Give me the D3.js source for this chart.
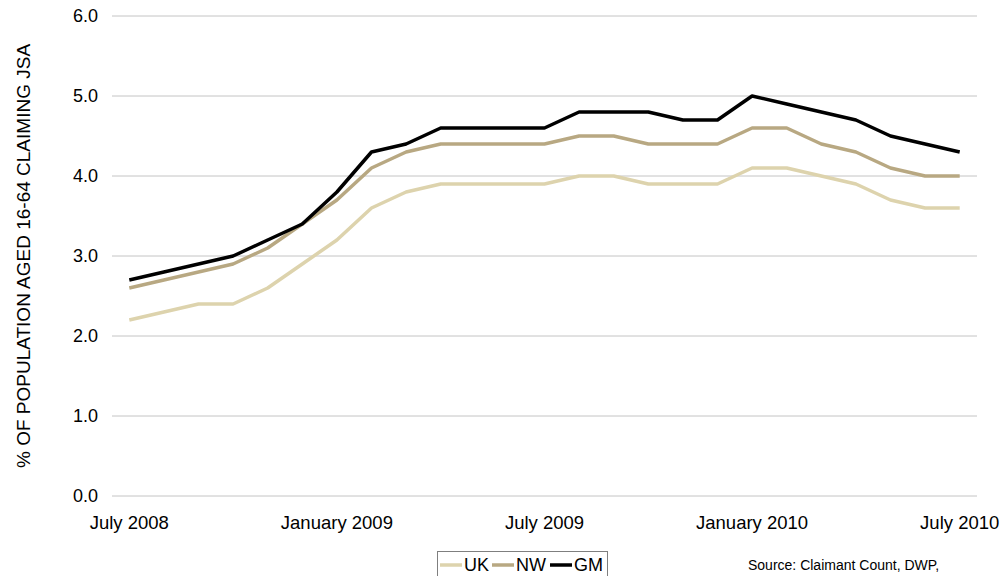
<!DOCTYPE html>
<html>
<head>
<meta charset="utf-8">
<script src="https://cdn.jsdelivr.net/npm/d3@7"></script>
<style>
  body { margin: 0; background: #fff; }
  svg { font-family: "Liberation Sans", Arial, sans-serif; }
</style>
</head>
<body>
<svg id="chart" width="1002" height="576"></svg>
<script>
// month index 0 = July 2008 ... 24 = July 2010
const months = d3.range(25);
const tickLabels = ["July 2008", "January 2009", "July 2009", "January 2010", "July 2010"];
const tickIdx = [0, 6, 12, 18, 24];

const uk = [2.2, 2.3, 2.4, 2.4, 2.6, 2.9, 3.2, 3.6, 3.8, 3.9, 3.9, 3.9, 3.9, 4.0, 4.0, 3.9, 3.9, 3.9, 4.1, 4.1, 4.0, 3.9, 3.7, 3.6, 3.6];
const nw = [2.6, 2.7, 2.8, 2.9, 3.1, 3.4, 3.7, 4.1, 4.3, 4.4, 4.4, 4.4, 4.4, 4.5, 4.5, 4.4, 4.4, 4.4, 4.6, 4.6, 4.4, 4.3, 4.1, 4.0, 4.0];
const gm = [2.7, 2.8, 2.9, 3.0, 3.2, 3.4, 3.8, 4.3, 4.4, 4.6, 4.6, 4.6, 4.6, 4.8, 4.8, 4.8, 4.7, 4.7, 5.0, 4.9, 4.8, 4.7, 4.5, 4.4, 4.3];

const series = [
  { name: "UK", values: uk, color: "#ddd3ad" },
  { name: "NW", values: nw, color: "#b8a882" },
  { name: "GM", values: gm, color: "#000000" }
];

const svg = d3.select("#chart");

// zone du graphique
const plotLeft = 112, plotRight = 977, plotTop = 16, plotBottom = 496;

const x = d3.scaleBand().domain(months).range([plotLeft, plotRight]);
const xc = i => x(i) + x.bandwidth() / 2;
const y = d3.scaleLinear().domain([0, 6]).range([plotBottom, plotTop]);

// grid lines
svg.append("g")
  .selectAll("line")
  .data(d3.range(0, 7))
  .enter().append("line")
  .attr("x1", plotLeft).attr("x2", plotRight)
  .attr("y1", d => y(d)).attr("y2", d => y(d))
  .attr("stroke", "#c4c4c4")
  .attr("stroke-width", 1);

// y tick labels
svg.append("g")
  .selectAll("text")
  .data(d3.range(0, 7))
  .enter().append("text")
  .attr("x", 98)
  .attr("y", d => y(d))
  .attr("dy", "0.35em")
  .attr("text-anchor", "end")
  .style("font-size", "18px")
  .text(d => d.toFixed(1));

// x tick labels
svg.append("g")
  .selectAll("text")
  .data(tickIdx)
  .enter().append("text")
  .attr("x", d => xc(d))
  .attr("y", 523)
  .attr("dy", "0.35em")
  .attr("text-anchor", "middle")
  .style("font-size", "18.5px")
  .text((d, i) => tickLabels[i]);

// y axis title
svg.append("text")
  .attr("transform", "translate(30,256) rotate(-90)")
  .attr("text-anchor", "middle")
  .style("font-size", "19px")
  .text("% OF POPULATION AGED 16-64 CLAIMING JSA");

// lines
const line = d3.line()
  .x((d, i) => xc(i))
  .y(d => y(d));

svg.append("g")
  .selectAll("path")
  .data(series)
  .enter().append("path")
  .attr("d", d => line(d.values))
  .attr("fill", "none")
  .attr("stroke", d => d.color)
  .attr("stroke-width", 3.5)
  .attr("stroke-linejoin", "round");

// legend
const legend = svg.append("g");
legend.append("rect")
  .attr("x", 437.5).attr("y", 551.5)
  .attr("width", 170).attr("height", 30)
  .attr("fill", "#fff")
  .attr("stroke", "#7f7f7f");

const itemX = [440, 492, 550];
const item = legend.selectAll(".item")
  .data(series)
  .enter().append("g")
  .attr("class", "item")
  .attr("transform", (d, i) => `translate(${itemX[i]},565)`);

item.append("line")
  .attr("x1", 0).attr("x2", 22)
  .attr("stroke", d => d.color)
  .attr("stroke-width", 3.5);

item.append("text")
  .attr("x", 24)
  .attr("dy", "0.35em")
  .style("font-size", "18px")
  .text(d => d.name);

// source note
svg.append("text")
  .attr("x", 748)
  .attr("y", 570)
  .style("font-size", "14px")
  .text("Source: Claimant Count, DWP,");
</script>
</body>
</html>
